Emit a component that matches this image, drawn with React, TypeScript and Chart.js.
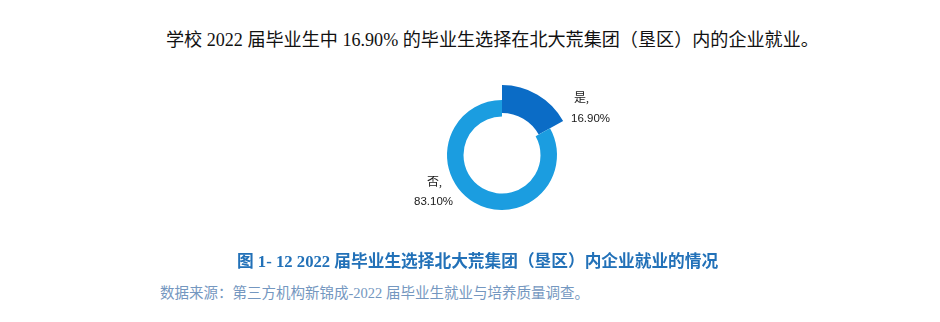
import React, { useEffect, useRef } from "react";
import { Chart, registerables } from "chart.js";

Chart.register(...registerables);

const categories = ["是", "否"];
const values = [16.9, 83.1];
const valueLabels = ["16.90%", "83.10%"];
const sliceColors = ["#0B6CC6", "#1B9DE0"];

const headline = "学校 2022 届毕业生中 16.90% 的毕业生选择在北大荒集团（垦区）内的企业就业。";
const figureTitle = "图 1- 12 2022 届毕业生选择北大荒集团（垦区）内企业就业的情况";
const sourceNote = "数据来源：第三方机构新锦成-2022 届毕业生就业与培养质量调查。";

const enlargeFirst = {
  id: "enlargeFirst",
  afterDatasetsUpdate(chart: any) {
    const meta = chart.getDatasetMeta(0);
    const arc: any = meta.data[0];
    if (arc) {
      const o = arc.outerRadius;
      const i = arc.innerRadius;
      arc.outerRadius = o + 15;
      arc.innerRadius = i + 3.5;
    }
  },
};

export default function App() {
  const ref = useRef<HTMLCanvasElement | null>(null);
  useEffect(() => {
    document.body.style.margin = "0";
    if (!ref.current) return;
    const chart = new Chart(ref.current, {
      type: "doughnut",
      data: {
        labels: categories,
        datasets: [
          {
            data: values,
            backgroundColor: sliceColors,
            borderWidth: 0,
          },
        ],
      },
      options: {
        responsive: false,
        animation: false,
        cutout: "70%",
        rotation: 0,
        layout: { padding: { left: 95, right: 95, top: 45, bottom: 45 } },
        plugins: {
          legend: { display: false },
          tooltip: { enabled: false },
        },
        events: [],
      },
      plugins: [enlargeFirst],
    });
    return () => chart.destroy();
  }, []);

  const serif = '"Liberation Serif", "Times New Roman", "Noto Sans CJK SC", serif';
  const sans = '"Liberation Sans", Arial, "Noto Sans CJK SC", sans-serif';
  const labelStyle: React.CSSProperties = {
    position: "absolute",
    fontSize: 11.5,
    color: "#1a1a1a",
    lineHeight: "14px",
    whiteSpace: "nowrap",
  };

  return (
    <div style={{ position: "relative", width: 940, height: 322, background: "#fff", overflow: "hidden" }}>
      <div
        style={{
          position: "absolute",
          left: 166,
          top: 29,
          fontSize: 18.1,
          fontFamily: serif,
          color: "#111",
          whiteSpace: "nowrap",
          lineHeight: "22px",
        }}
      >
        {headline}
      </div>
      <canvas
        ref={ref}
        width={300}
        height={200}
        style={{ position: "absolute", left: 352, top: 55, width: 300, height: 200 }}
      />
      <div style={{ ...labelStyle, left: 574, top: 91, fontFamily: serif, fontSize: 12 }}>{categories[0]},</div>
      <div style={{ ...labelStyle, left: 571, top: 111, fontFamily: sans }}>{valueLabels[0]}</div>
      <div style={{ ...labelStyle, left: 427, top: 175, fontFamily: serif, fontSize: 12 }}>{categories[1]},</div>
      <div style={{ ...labelStyle, left: 414, top: 194, fontFamily: sans }}>{valueLabels[1]}</div>
      <div
        style={{
          position: "absolute",
          left: 237,
          top: 252,
          fontSize: 16.7,
          fontWeight: "bold",
          fontFamily: serif,
          color: "#2271B8",
          whiteSpace: "nowrap",
          lineHeight: "20px",
        }}
      >
        {figureTitle}
      </div>
      <div
        style={{
          position: "absolute",
          left: 160,
          top: 284,
          fontSize: 14.5,
          fontFamily: serif,
          color: "#7497C0",
          whiteSpace: "nowrap",
          lineHeight: "18px",
        }}
      >
        {sourceNote}
      </div>
    </div>
  );
}
